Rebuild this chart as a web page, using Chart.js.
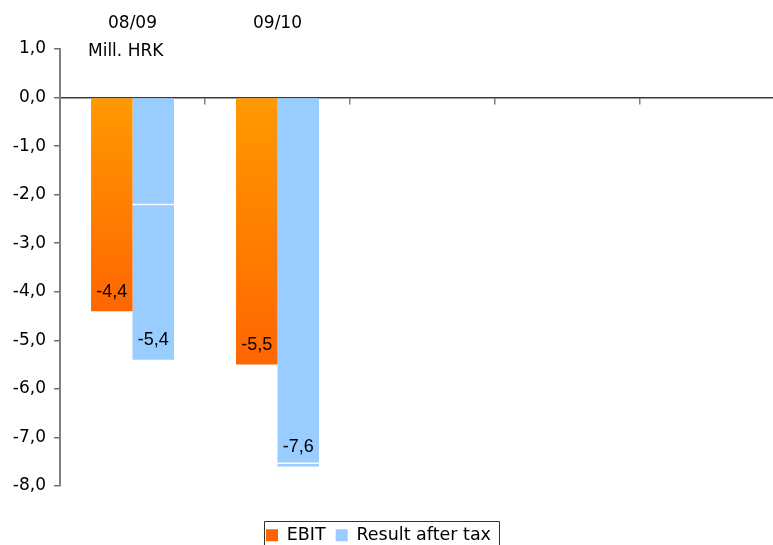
<!DOCTYPE html>
<html>
<head>
<meta charset="utf-8">
<script src="https://cdn.jsdelivr.net/npm/chart.js@4/dist/chart.umd.min.js"></script>
<style>
  html, body { margin: 0; padding: 0; background: #fff; overflow: hidden; width: 773px; height: 545px; }
  canvas { display: block; }
</style>
</head>
<body>
<canvas id="c" width="790" height="554"></canvas>
<script>
// Fiscal periods (the axis keeps room for three more years)
const periods = ['08/09', '09/10', '', '', ''];
// Values in millions of HRK
const ebit = [-4.4, -5.5, null, null, null];
const resultAfterTax = [-5.4, -7.6, null, null, null];
// Thin white separators across the after-tax bars
const afterTaxSeams = [-2.2, -7.53, null, null, null];
// Value axis
const yMin = -8;
const yMax = 1;
const yStep = 1;
const unitLabel = 'Mill. HRK';
const seriesNames = ['EBIT', 'Result after tax'];

const fmt = v => v.toFixed(1).replace('.', ',');
const VERDANA = '"DejaVu Sans", Verdana, sans-serif';
const ARIAL = '"Liberation Sans", Arial, sans-serif';
const LEGEND_SHIFT = -14;

function ebitFill(ctx) {
  const chart = ctx.chart;
  if (ctx.type !== 'data' || !chart.chartArea || ctx.raw == null) return '#FF7F00';
  const y = chart.scales.y;
  const g = chart.ctx.createLinearGradient(0, y.getPixelForValue(0), 0, y.getPixelForValue(ctx.raw));
  g.addColorStop(0, '#FF9900');
  g.addColorStop(1, '#FF6600');
  return g;
}

const decor = {
  id: 'decor',
  afterUpdate(chart) {
    // slide the legend a little to the left
    const lg = chart.legend;
    if (!lg) return;
    lg.left += LEGEND_SHIFT;
    lg.right += LEGEND_SHIFT;
    lg.legendHitBoxes.forEach(hb => { hb.left += LEGEND_SHIFT; });
  },
  afterDatasetsDraw(chart) {
    const { ctx } = chart;
    const y = chart.scales.y;
    ctx.save();
    // separators in the after-tax bars
    const taxMeta = chart.getDatasetMeta(1);
    ctx.strokeStyle = '#ffffff';
    ctx.lineWidth = 1.5;
    afterTaxSeams.forEach((v, i) => {
      const bar = taxMeta.data[i];
      if (v == null || !bar) return;
      const py = y.getPixelForValue(v);
      ctx.beginPath();
      ctx.moveTo(bar.x - bar.width / 2, py);
      ctx.lineTo(bar.x + bar.width / 2, py);
      ctx.stroke();
    });
    // value labels just inside the end of each bar
    ctx.fillStyle = '#000';
    ctx.font = '18px ' + ARIAL;
    ctx.textAlign = 'center';
    ctx.textBaseline = 'alphabetic';
    chart.data.datasets.forEach((ds, di) => {
      chart.getDatasetMeta(di).data.forEach((bar, i) => {
        const v = ds.data[i];
        if (v == null) return;
        ctx.fillText(fmt(v), bar.x, bar.y - 14.5);
      });
    });
    ctx.restore();
  },
  afterDraw(chart) {
    const { ctx, chartArea } = chart;
    ctx.save();
    // unit caption under the first period
    ctx.fillStyle = '#000';
    ctx.font = '17px ' + VERDANA;
    ctx.textAlign = 'left';
    ctx.textBaseline = 'middle';
    ctx.fillText(unitLabel, chartArea.left + 28, 52);
    // frame around the legend
    const lg = chart.legend;
    if (lg && lg.legendHitBoxes.length) {
      const hb = lg.legendHitBoxes;
      const last = hb[hb.length - 1];
      const pad = lg.options.labels.padding;
      const l = Math.round(hb[0].left - 2.5) + 0.5;
      const r = Math.round(last.left + last.width + 8.5) + 0.5;
      const t = Math.round(lg.top + pad - 5.5) + 0.5;
      ctx.strokeStyle = '#333';
      ctx.lineWidth = 1;
      ctx.beginPath();
      ctx.moveTo(l, chart.height + 2);
      ctx.lineTo(l, t);
      ctx.lineTo(r, t);
      ctx.lineTo(r, chart.height + 2);
      ctx.stroke();
    }
    ctx.restore();
  }
};

new Chart(document.getElementById('c'), {
  type: 'bar',
  data: {
    labels: periods,
    datasets: [
      { label: seriesNames[0], data: ebit, backgroundColor: ebitFill, borderWidth: 0,
        xAxisID: 'x', yAxisID: 'y', categoryPercentage: 0.572, barPercentage: 1 },
      { label: seriesNames[1], data: resultAfterTax, backgroundColor: '#99CCFF', borderWidth: 0,
        xAxisID: 'x', yAxisID: 'y', categoryPercentage: 0.572, barPercentage: 1 }
    ]
  },
  options: {
    responsive: false,
    devicePixelRatio: 1,
    animation: false,
    layout: { padding: { left: 0, right: 5, top: 0, bottom: 0 } },
    plugins: {
      legend: {
        position: 'bottom',
        labels: {
          font: { family: VERDANA, size: 17.5 },
          color: '#000',
          boxWidth: 12,
          boxHeight: 12,
          padding: 10
        }
      },
      title: { display: false },
      tooltip: { enabled: false }
    },
    scales: {
      x: {
        type: 'category',
        position: { y: 0 },
        offset: true,
        grid: { offset: true, drawOnChartArea: false, drawTicks: true, tickLength: 6, color: '#808080', lineWidth: 1.5 },
        border: { display: true, color: '#3a3a3a', width: 1.5 },
        ticks: { display: false }
      },
      xTop: {
        type: 'category',
        axis: 'x',
        position: 'top',
        offset: true,
        grid: { display: false, drawTicks: false },
        border: { display: false },
        ticks: { font: { family: VERDANA, size: 17 }, color: '#000', padding: 15.5, maxRotation: 0, autoSkip: false },
        afterFit(s) { s.height = 49; }
      },
      xGap: {
        type: 'linear',
        axis: 'x',
        position: 'bottom',
        grid: { display: false, drawTicks: false },
        border: { display: false },
        ticks: { display: false },
        afterFit(s) { s.height = 30.5; }
      },
      y: {
        type: 'linear',
        min: yMin,
        max: yMax,
        grid: { drawOnChartArea: false, drawTicks: true, tickLength: 6, color: '#707070', lineWidth: 1.5 },
        border: { display: true, color: '#808080', width: 2 },
        ticks: {
          stepSize: yStep,
          font: { family: VERDANA, size: 17 },
          color: '#000',
          padding: 8,
          callback: v => fmt(v)
        },
        afterFit(s) { s.width = 60; }
      }
    }
  },
  plugins: [decor]
});
</script>
</body>
</html>
